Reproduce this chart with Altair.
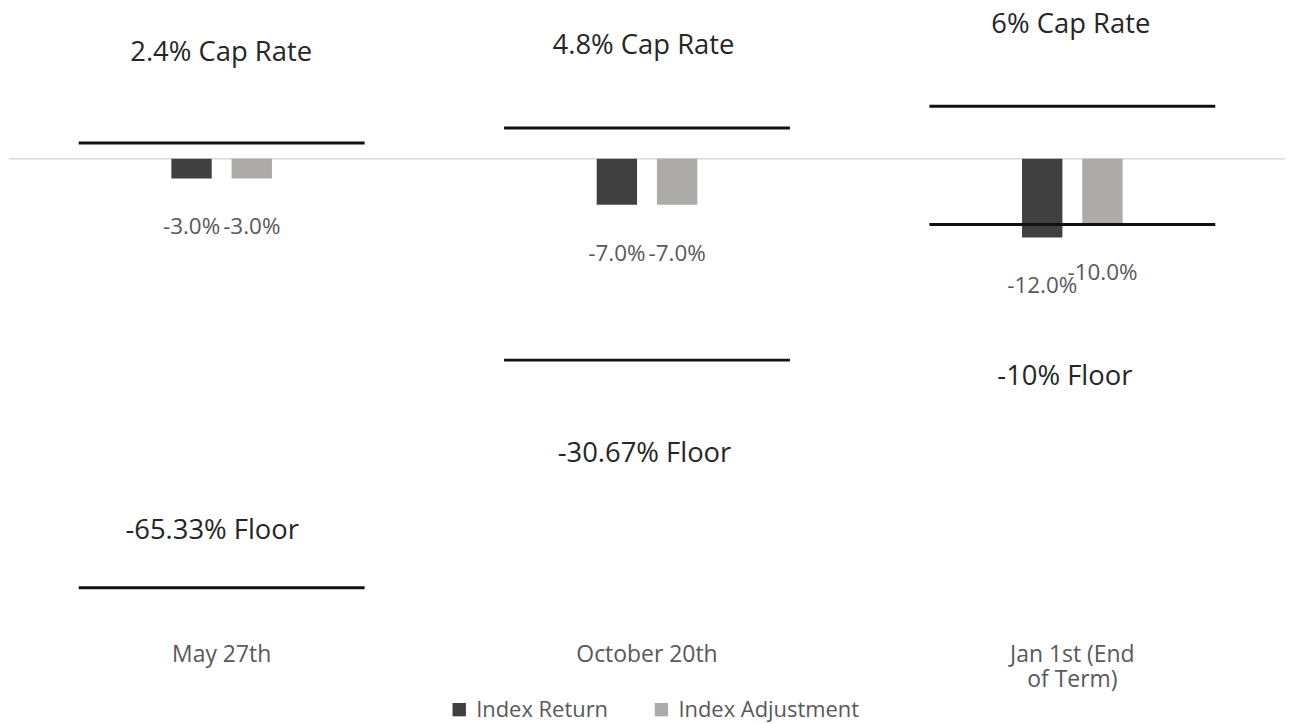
import altair as alt
import pandas as pd

categories = ["May 27th", "October 20th", "Jan 1st (End of Term)"]
series = ["Index Return", "Index Adjustment"]
index_return = [-3.0, -7.0, -12.0]
index_adjustment = [-3.0, -7.0, -10.0]
cap_lines = [2.4, 4.7, 8.0]
floor_lines = [-65.33, -30.67, -10.0]
cap_texts = ["2.4% Cap Rate", "4.8% Cap Rate", "6% Cap Rate"]
floor_texts = ["-65.33% Floor", "-30.67% Floor", "-10% Floor"]
cap_text_y = [14.87, 15.93, 19.2]
floor_text_y = [-57.97, -46.13, -34.45]

# styling
cap_dx = [-0.5, -3.5, -1.5]
floor_dx = [-9.5, -2.5, -7.5]
FONT = "Open Sans"
GRAY = "#595959"

bars = pd.DataFrame({
    "category": categories * 2,
    "series": [series[0]] * 3 + [series[1]] * 3,
    "value": index_return + index_adjustment,
})
bars["label"] = [f"{v:.1f}%" for v in bars["value"]]
lines = pd.DataFrame({
    "category": categories * 2,
    "value": cap_lines + floor_lines,
})

x_enc = alt.X(
    "category:N", sort=categories, title=None,
    scale=alt.Scale(paddingInner=0, paddingOuter=0),
    axis=alt.Axis(
        labelAngle=0, domain=False, ticks=False, labelPadding=12,
        labelFontSize=23, labelColor=GRAY, labelFont=FONT,
        labelLineHeight=25, labelBaseline="top", labelLimit=300,
        labelExpr="datum.label == 'Jan 1st (End of Term)' ? ['Jan 1st (End', 'of Term)'] : datum.label",
    ),
)
y_scale = alt.Scale(domain=[-72.08, 22.76], nice=False, zero=False)
y_enc = alt.Y("value:Q", scale=y_scale, axis=None)
xoff = alt.XOffset("series:N", sort=series,
                   scale=alt.Scale(range=[163, 264], paddingInner=0.33, paddingOuter=0))

zero = alt.Chart(pd.DataFrame({"value": [0]})).mark_rule(
    color="#D9D9D9", strokeWidth=1.5
).encode(y=y_enc)

bar = alt.Chart(bars).mark_bar().encode(
    x=x_enc, xOffset=xoff, y=y_enc,
    color=alt.Color(
        "series:N", sort=series,
        scale=alt.Scale(domain=series, range=["#404040", "#ADAAAA"]),
        legend=alt.Legend(
            title=None, orient="none", direction="horizontal",
            legendX=441, legendY=692, padding=0,
            symbolType="square", symbolSize=180, symbolStrokeWidth=0,
            labelFontSize=22, labelColor=GRAY, labelFont=FONT,
            labelOffset=6, columnPadding=42, labelLimit=400,
        ),
    ),
)

vlabels = alt.Chart(bars).mark_text(
    baseline="middle", dy=49, fontSize=22.5, color=GRAY, font=FONT
).encode(x=x_enc, xOffset=xoff, y=y_enc, text="label:N")

ticks = alt.Chart(lines).mark_tick(
    size=287, thickness=3, color="#111111", orient="horizontal", opacity=1
).encode(x=x_enc, y=y_enc)

layers = [zero, bar, vlabels, ticks]
for i, cat in enumerate(categories):
    for txt, ty, dx in [(cap_texts[i], cap_text_y[i], cap_dx[i]),
                        (floor_texts[i], floor_text_y[i], floor_dx[i])]:
        d = pd.DataFrame({"category": [cat], "value": [ty], "text": [txt]})
        layers.append(
            alt.Chart(d).mark_text(
                baseline="alphabetic", dx=dx, fontSize=27.5,
                color="#262626", font=FONT
            ).encode(x=x_enc, y=y_enc, text="text:N")
        )

chart = alt.layer(*layers).properties(
    width=1281, height=625, padding=0
).configure_view(stroke=None)

chart.save("out.html", embed_options={"renderer": "svg", "actions": False})
